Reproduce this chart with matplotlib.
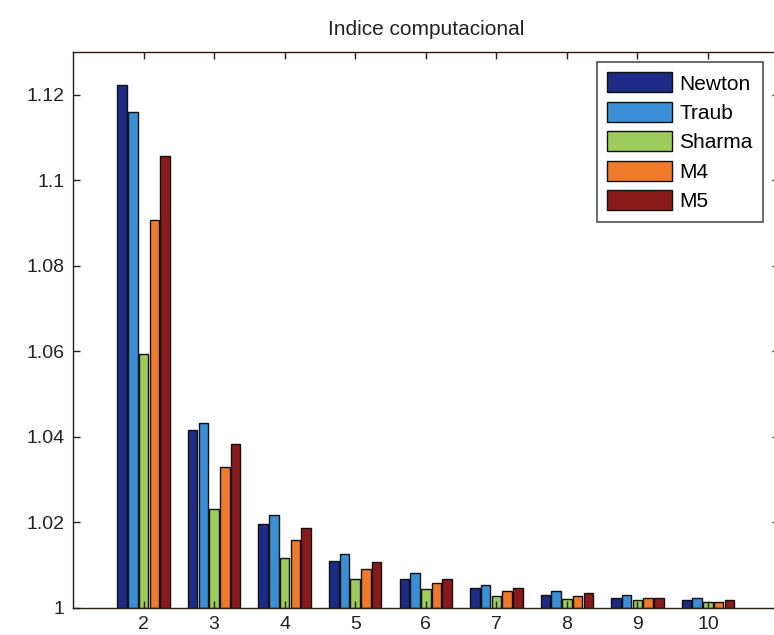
import numpy as np
import matplotlib
matplotlib.use("Agg")
import matplotlib.pyplot as plt

plt.rcParams['font.family'] = ['Liberation Sans', 'DejaVu Sans']

# Computational index per order, one array per method
orders = [2, 3, 4, 5, 6, 7, 8, 9, 10]
newton = [1.1224, 1.0417, 1.0197, 1.0111, 1.0068, 1.0047, 1.0030, 1.0023, 1.0019]
traub = [1.1159, 1.0432, 1.0218, 1.0127, 1.0081, 1.0054, 1.0039, 1.0030, 1.0023]
sharma = [1.0595, 1.0232, 1.0118, 1.0068, 1.0045, 1.0028, 1.0022, 1.0019, 1.0014]
m4 = [1.0907, 1.0329, 1.0160, 1.0092, 1.0058, 1.0040, 1.0027, 1.0023, 1.0015]
m5 = [1.1057, 1.0384, 1.0187, 1.0107, 1.0068, 1.0047, 1.0035, 1.0023, 1.0019]

labels = ["Newton", "Traub", "Sharma", "M4", "M5"]
colors = ["#1d2b86", "#3a8fd6", "#9dcc5c", "#f07a2a", "#8a1a1a"]
series = [newton, traub, sharma, m4, m5]

fig = plt.figure(figsize=(7.74, 6.35), dpi=100)
# axes run from x=73px to past the right edge of the figure
ax = fig.add_axes([73 / 774, 1 - 608 / 635, (778.5 - 73) / 774, (608 - 52) / 635])

x = np.array(orders, dtype=float)
step = 0.152
width = 0.135
for i, (vals, lab, col) in enumerate(zip(series, labels, colors)):
    offs = (i - 2) * step
    heights = np.array(vals) - 1.0
    ax.bar(x + offs, heights, width=width, bottom=1.0, color=col,
           edgecolor="#111111", linewidth=1.0, label=lab)

ax.set_xlim(1, 11)
ax.set_ylim(1, 1.13)
ax.set_xticks(orders)
ax.set_yticks([1, 1.02, 1.04, 1.06, 1.08, 1.1, 1.12])
ax.set_yticklabels(["1", "1.02", "1.04", "1.06", "1.08", "1.1", "1.12"])

ax.tick_params(direction="in", top=True, right=True, length=5, width=1,
               labelsize=14, colors="#222222", pad=6)
for sp in ax.spines.values():
    sp.set_color("#2a1d18")
    sp.set_linewidth(1.0)

ax.set_title("Indice computacional", fontsize=15, pad=12, color="#222222")

leg = ax.legend(loc="upper right", bbox_to_anchor=((763 - 73) / (778.5 - 73), (608 - 62) / 556),
                fontsize=15, frameon=True, fancybox=False, handlelength=3.1,
                handleheight=1.1, handletextpad=0.35, labelspacing=0.4,
                borderpad=0.5, borderaxespad=0)
leg.get_frame().set_edgecolor("#222222")
leg.get_frame().set_linewidth(1.2)

fig.savefig("out.png", dpi=100)
